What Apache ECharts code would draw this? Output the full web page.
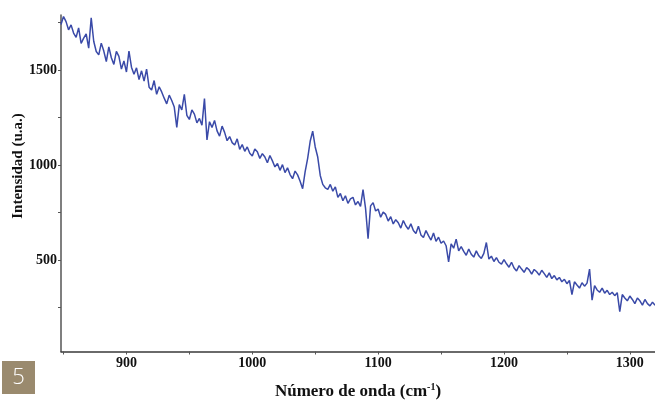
<!DOCTYPE html>
<html>
<head>
<meta charset="utf-8">
<script src="https://cdn.jsdelivr.net/npm/echarts@6/dist/echarts.min.js"></script>
<style>
  html, body { margin: 0; padding: 0; background: #fff; }
  #chart { width: 655px; height: 405px; }
</style>
</head>
<body>
<div id="chart"></div>
<script>
// Raman shift (cm-1)
var wavenumbers = [
  848, 850, 852, 854, 856, 858, 860, 862, 864, 866,
  868, 870, 872, 874, 876, 878, 880, 882, 884, 886,
  888, 890, 892, 894, 896, 898, 900, 902, 904, 906,
  908, 910, 912, 914, 916, 918, 920, 922, 924, 926,
  928, 930, 932, 934, 936, 938, 940, 942, 944, 946,
  948, 950, 952, 954, 956, 958, 960, 962, 964, 966,
  968, 970, 972, 974, 976, 978, 980, 982, 984, 986,
  988, 990, 992, 994, 996, 998, 1000, 1002, 1004, 1006,
  1008, 1010, 1012, 1014, 1016, 1018, 1020, 1022, 1024, 1026,
  1028, 1030, 1032, 1034, 1036, 1038, 1040, 1042, 1044, 1046,
  1048, 1050, 1052, 1054, 1056, 1058, 1060, 1062, 1064, 1066,
  1068, 1070, 1072, 1074, 1076, 1078, 1080, 1082, 1084, 1086,
  1088, 1090, 1092, 1094, 1096, 1098, 1100, 1102, 1104, 1106,
  1108, 1110, 1112, 1114, 1116, 1118, 1120, 1122, 1124, 1126,
  1128, 1130, 1132, 1134, 1136, 1138, 1140, 1142, 1144, 1146,
  1148, 1150, 1152, 1154, 1156, 1158, 1160, 1162, 1164, 1166,
  1168, 1170, 1172, 1174, 1176, 1178, 1180, 1182, 1184, 1186,
  1188, 1190, 1192, 1194, 1196, 1198, 1200, 1202, 1204, 1206,
  1208, 1210, 1212, 1214, 1216, 1218, 1220, 1222, 1224, 1226,
  1228, 1230, 1232, 1234, 1236, 1238, 1240, 1242, 1244, 1246,
  1248, 1250, 1252, 1254, 1256, 1258, 1260, 1262, 1264, 1266,
  1268, 1270, 1272, 1274, 1276, 1278, 1280, 1282, 1284, 1286,
  1288, 1290, 1292, 1294, 1296, 1298, 1300, 1302, 1304, 1306,
  1308, 1310, 1312, 1314, 1316, 1318, 1320
];
// intensity (u.a.)
var intensity = [
  1740, 1782, 1755, 1712, 1738, 1695, 1672, 1722, 1640, 1668,
  1690, 1615, 1775, 1652, 1598, 1580, 1642, 1600, 1545, 1622,
  1565, 1530, 1598, 1572, 1505, 1548, 1490, 1600, 1515, 1478,
  1512, 1450, 1496, 1442, 1505, 1410, 1395, 1445, 1372, 1412,
  1385, 1352, 1322, 1368, 1340, 1305, 1198, 1318, 1290, 1372,
  1262, 1240, 1290, 1268, 1222, 1245, 1210, 1350, 1132, 1228,
  1198, 1235, 1180, 1152, 1205, 1172, 1128, 1150, 1118, 1105,
  1138, 1082, 1108, 1072, 1095, 1062, 1048, 1085, 1070, 1035,
  1060, 1042, 1012, 1050, 1022, 990, 1008, 972, 1002, 960,
  985, 950, 928, 968, 948, 915, 875, 965, 1035, 1125,
  1178, 1095, 1042, 945, 898, 880, 872, 898, 862, 885,
  830, 850, 812, 838, 798, 822, 830, 790, 808, 782,
  870, 772, 612, 785, 802, 758, 768, 725, 752, 740,
  705, 728, 690, 712, 696, 668, 708, 680, 662, 690,
  655, 640, 678, 632, 618, 655, 628, 605, 642, 598,
  620, 588, 600, 575, 490, 585, 562, 610, 548, 570,
  545, 525, 558, 530, 515, 548, 522, 508, 535, 592,
  505, 520, 492, 512, 488, 478, 502, 480, 462, 488,
  458, 442, 470, 452, 435, 460, 448, 425, 450, 438,
  420, 446, 428, 408, 432, 402, 418, 395, 408, 385,
  398, 375, 392, 318, 385, 368, 352, 380, 362, 378,
  452, 288, 365, 342, 330, 352, 325, 340, 318, 330,
  312, 328, 228, 318, 300, 285, 310, 292, 270, 300,
  285, 262, 292, 270, 258, 278, 262
];
var xLabels = [900, 1000, 1100, 1200, 1300];
var xTicks = [850, 900, 950, 1000, 1050, 1100, 1150, 1200, 1250, 1300];
var yLabels = [500, 1000, 1500];
var yTicks = [250, 500, 750, 1000, 1250, 1500, 1750];

var serif = '"Liberation Serif", "DejaVu Serif", serif';
var points = [];
for (var i = 0; i < wavenumbers.length; i++) {
  points.push([wavenumbers[i], intensity[i]]);
}
function plain(v) { return String(v); }

var mycharts = echarts.init(document.getElementById('chart'));
var options = {
  animation: false,
  backgroundColor: '#fff',
  grid: { left: 61, right: 0, top: 15, bottom: 48 },
  xAxis: {
    type: 'value',
    min: 848,
    max: 1320,
    name: '{a|Número de onda (cm}{s|-1}{a|)}',
    nameLocation: 'middle',
    nameGap: 30,
    nameTextStyle: {
      rich: {
        a: { fontFamily: serif, fontWeight: 'bold', fontSize: 17, color: '#111', lineHeight: 20 },
        s: { fontFamily: serif, fontWeight: 'bold', fontSize: 10, color: '#111', padding: [0, 0, 9, 0] }
      }
    },
    splitLine: { show: false },
    axisLine: { lineStyle: { color: '#3a3a3a', width: 1.5 } },
    axisTick: { customValues: xTicks, length: 3, lineStyle: { color: '#555' } },
    axisLabel: {
      customValues: xLabels,
      formatter: plain,
      margin: 5,
      fontFamily: serif,
      fontWeight: 'bold',
      fontSize: 14,
      color: '#111'
    }
  },
  yAxis: {
    type: 'value',
    min: 18,
    max: 1790,
    splitLine: { show: false },
    axisLine: { show: true, lineStyle: { color: '#555', width: 1.5 } },
    axisTick: { show: true, customValues: yTicks, length: 3, lineStyle: { color: '#555' } },
    axisLabel: {
      customValues: yLabels,
      formatter: plain,
      margin: 4,
      fontFamily: serif,
      fontWeight: 'bold',
      fontSize: 14,
      color: '#111'
    }
  },
  graphic: [
    {
      type: 'text',
      x: 18,
      y: 166,
      rotation: Math.PI / 2,
      style: {
        text: 'Intensidad (u.a.)',
        font: 'bold 15px ' + serif,
        fill: '#111',
        align: 'center',
        verticalAlign: 'middle'
      }
    },
    {
      type: 'rect',
      shape: { x: 2, y: 361, width: 33, height: 33 },
      style: { fill: '#9a8a6e' }
    },
    {
      type: 'text',
      x: 18.5,
      y: 378,
      style: {
        text: '5',
        font: '300 22px "Open Sans", sans-serif',
        fill: '#fff',
        align: 'center',
        verticalAlign: 'middle'
      }
    }
  ],
  series: [{
    type: 'line',
    data: points,
    showSymbol: false,
    lineStyle: { color: '#3a4aa8', width: 1.5 },
    clip: true
  }]
};
mycharts.setOption(options);
</script>
</body>
</html>
